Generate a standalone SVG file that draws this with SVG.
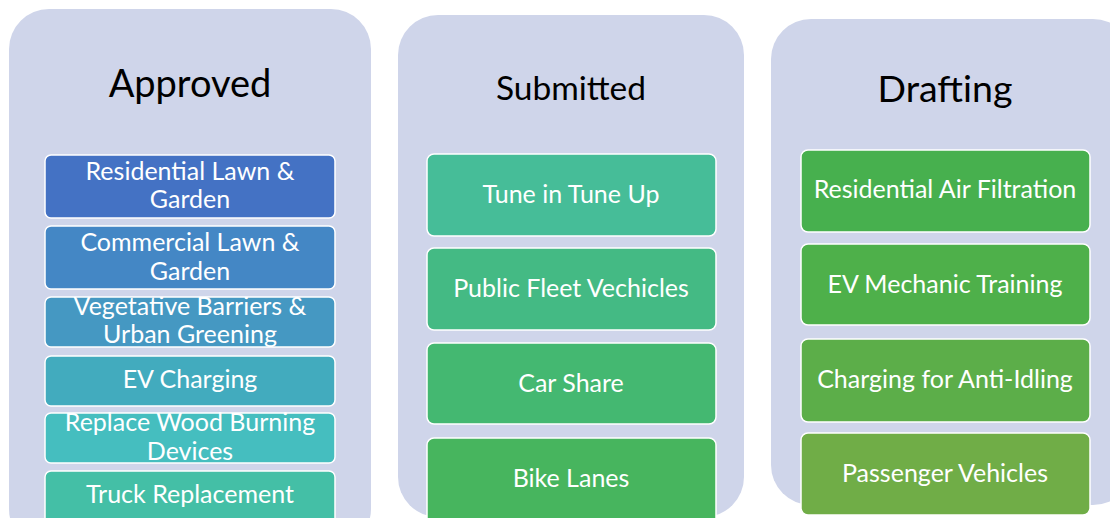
<svg xmlns="http://www.w3.org/2000/svg" width="1110" height="518" viewBox="0 0 1110 518">
<defs>
<style>
.panel{fill:#CFD5EA}
.title{font-family:Lato,"Open Sans","Liberation Sans",sans-serif;fill:#000;text-anchor:middle}
.box{stroke:#FFFFFF;stroke-width:1.5}
.lbl{font-family:Lato,"Open Sans","Liberation Sans",sans-serif;font-size:25px;fill:#FFFFFF;text-anchor:middle}
</style>
<clipPath id="c3"><rect x="45" y="297" width="290" height="50"/></clipPath>
</defs>
<rect width="1110" height="518" fill="#FFFFFF"/>

<g id="approved">
<rect class="panel" x="9" y="9" width="362" height="540" rx="40"/>
<text class="title" x="190" y="97" font-size="38">Approved</text>
<g id="a1"><rect class="box" x="45" y="155" width="290" height="63" rx="6" fill="#4472C4"/>
<text class="lbl" x="190" y="180">Residential Lawn &amp;</text><text class="lbl" x="190" y="208">Garden</text></g>
<g id="a2"><rect class="box" x="45" y="226" width="290" height="63" rx="6" fill="#4487C5"/>
<text class="lbl" x="190" y="251">Commercial Lawn &amp;</text><text class="lbl" x="190" y="280">Garden</text></g>
<g id="a3"><rect class="box" x="45" y="297" width="290" height="50" rx="6" fill="#4598C2"/>
<g clip-path="url(#c3)"><text class="lbl" x="190" y="315">Vegetative Barriers &amp;</text><text class="lbl" x="190" y="343">Urban Greening</text></g></g>
<g id="a4"><rect class="box" x="45" y="356" width="290" height="50" rx="6" fill="#42ABBE"/>
<text class="lbl" x="190" y="388">EV Charging</text></g>
<g id="a5"><rect class="box" x="45" y="413" width="290" height="50" rx="6" fill="#45BEBF"/>
<text class="lbl" x="190" y="431" font-size="24.5">Replace Wood Burning</text><text class="lbl" x="190" y="460" font-size="24.5">Devices</text></g>
<g id="a6"><rect class="box" x="45" y="471" width="290" height="60" rx="6" fill="#44BFA6"/>
<text class="lbl" x="190" y="503">Truck Replacement</text></g>
</g>

<g id="submitted">
<rect class="panel" x="398" y="15" width="346" height="502" rx="40"/>
<text class="title" x="571" y="100" font-size="33.5">Submitted</text>
<g id="s1"><rect class="box" x="427" y="154" width="289" height="82" rx="7" fill="#46BD98"/>
<text class="lbl" x="571" y="203">Tune in Tune Up</text></g>
<g id="s2"><rect class="box" x="427" y="248" width="289" height="82" rx="7" fill="#44BA84"/>
<text class="lbl" x="571" y="297">Public Fleet Vechicles</text></g>
<g id="s3"><rect class="box" x="427" y="343" width="289" height="81" rx="7" fill="#44B871"/>
<text class="lbl" x="571" y="392">Car Share</text></g>
<g id="s4"><rect class="box" x="427" y="438" width="289" height="90" rx="7" fill="#47B55E"/>
<text class="lbl" x="571" y="487">Bike Lanes</text></g>
</g>

<g id="drafting">
<rect class="panel" x="771" y="19" width="362" height="486" rx="40"/>
<text class="title" x="945" y="102" font-size="37.5">Drafting</text>
<g id="d1"><rect class="box" x="801" y="150" width="289" height="82" rx="7" fill="#47B04E"/>
<text class="lbl" x="945" y="198">Residential Air Filtration</text></g>
<g id="d2"><rect class="box" x="801" y="244" width="289" height="81" rx="7" fill="#4EB04A"/>
<text class="lbl" x="945" y="293">EV Mechanic Training</text></g>
<g id="d3"><rect class="box" x="801" y="339" width="289" height="83" rx="7" fill="#5CAE49"/>
<text class="lbl" x="945" y="388">Charging for Anti-Idling</text></g>
<g id="d4"><rect class="box" x="801" y="433" width="289" height="82" rx="7" fill="#70AD47"/>
<text class="lbl" x="945" y="482">Passenger Vehicles</text></g>
</g>

<g id="connectors"></g>
</svg>
